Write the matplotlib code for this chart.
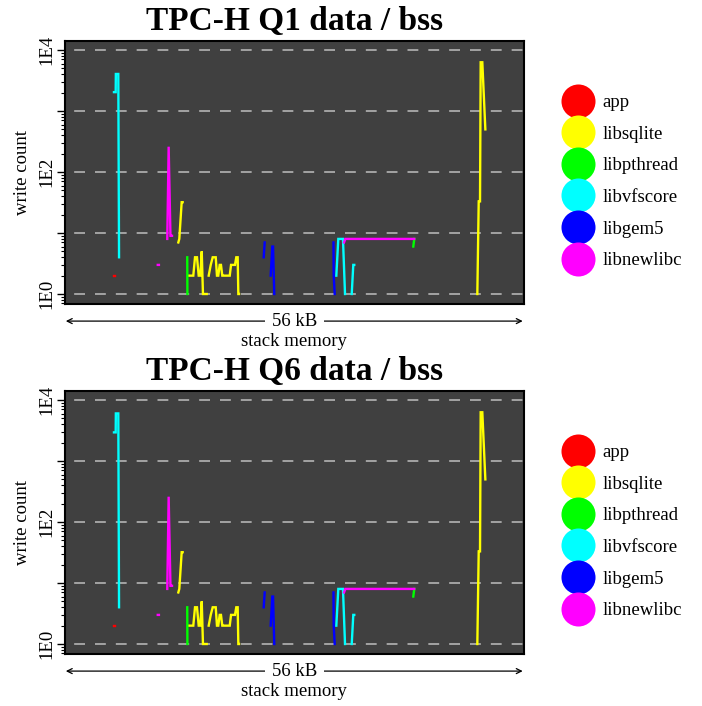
import numpy as np
import matplotlib
matplotlib.use("Agg")
import matplotlib.pyplot as plt
from matplotlib.lines import Line2D
from matplotlib.ticker import LogLocator, NullFormatter, FixedLocator

plt.rcParams['font.family'] = ['Liberation Serif', 'DejaVu Serif']

# ---------------- data (x in kB of stack memory, y = write count) ----------------
titles = ["TPC-H Q1 data / bss", "TPC-H Q6 data / bss"]
libraries = ["app", "libsqlite", "libpthread", "libvfscore", "libgem5", "libnewlibc"]
lib_colors = ["#ff0000", "#ffff00", "#00ff00", "#00ffff", "#0000ff", "#ff00ff"]

app_x = [6.02, 6.14, np.nan, 32.70, 32.76]
app_y = [2, 2, np.nan, 1, 1]

sqlite_x = [13.84, 13.96, 14.25, 14.37, np.nan,
            15.06, 15.67, 15.88, 16.12, 16.33, 16.53, 16.70, 16.85, 17.31, np.nan,
            17.55, 17.80, 18.04, 18.41, 18.56, 18.72, 18.89, 19.05, 19.21, 19.33,
            20.12, 20.28, 20.76, 20.92, 21.09, 21.17, 21.25, np.nan,
            50.36, 50.53, 50.69, 50.77, 50.97, 51.34]
sqlite_y = [7, 8, 32, 32, np.nan,
            2, 2, 4, 4, 2, 2, 5, 1, 1, np.nan,
            2, 3, 4, 4, 2, 2, 3, 3, 2, 2,
            2, 3, 3, 4, 4, 1, 1, np.nan,
            1, 33, 33, 6300, 6300, 500]

pthread_x = [14.93, 14.95, np.nan, 42.54, 42.66]
pthread_y = [4, 1, np.nan, 6, 8]

vfscore_x = [5.98, 6.19, 6.21, 6.51, 6.60, np.nan,
             33.14, 33.38, 33.95, 34.20, np.nan,
             35.02, 35.21, 35.33]
vfscore_y_q1 = [2040, 2040, 4050, 4050, 4, np.nan,
                2, 8, 8, 1, np.nan,
                1, 3, 3]
vfscore_y_q6 = [2950, 2950, 6030, 6030, 4, np.nan,
                2, 8, 8, 1, np.nan,
                1, 3, 3]

gem5_x = [24.27, 24.39, np.nan, 25.12, 25.32, 25.41, 25.56, np.nan, 32.79, 32.82, 32.94]
gem5_y = [4, 7, np.nan, 2, 6, 6, 1, np.nan, 7, 2, 1]

newlibc_x = [11.33, 11.47, np.nan, 12.49, 12.66, 12.88, 13.07, np.nan, 34.08, 34.24, 42.66]
newlibc_y = [3, 3, np.nan, 8, 260, 9, 9, np.nan, 7, 8, 8]

ytick_vals = [1, 10, 100, 1000, 10000]
ytick_labels = ["1E0", "", "1E2", "", "1E4"]
span_label = "56 kB"
x_label = "stack memory"
y_label = "write count"
x_max = 56

series_q1 = [(app_x, app_y), (sqlite_x, sqlite_y), (pthread_x, pthread_y),
             (vfscore_x, vfscore_y_q1), (gem5_x, gem5_y), (newlibc_x, newlibc_y)]
series_q6 = [(app_x, app_y), (sqlite_x, sqlite_y), (pthread_x, pthread_y),
             (vfscore_x, vfscore_y_q6), (gem5_x, gem5_y), (newlibc_x, newlibc_y)]

# ---------------- figure ----------------
W, H = 702, 706
fig = plt.figure(figsize=(W / 100, H / 100), dpi=100)

def px_axes(left, top, right, bottom):
    return [left / W, 1 - bottom / H, (right - left) / W, (bottom - top) / H]

axes = [fig.add_axes(px_axes(65, 41, 523.5, 304)),
        fig.add_axes(px_axes(65, 391, 523.5, 654))]

FS = 13.5

for ax, title, series in zip(axes, titles, [series_q1, series_q6]):
    ax.set_facecolor("#404040")
    ax.set_yscale("log")
    ax.set_ylim(10 ** -0.164, 10 ** 4.148)
    ax.set_xlim(0, x_max)
    for y in ytick_vals:
        ax.axhline(y, color="#b4b4b4", lw=1.2, linestyle=(7, (6.5, 6.0)), zorder=1)
    for (xs, ys), c in zip(series, lib_colors):
        ax.plot(xs, ys, color=c, lw=1.7, zorder=3, solid_joinstyle="miter")
    ax.set_xticks([])
    ax.yaxis.set_major_locator(FixedLocator(ytick_vals))
    ax.set_yticklabels(ytick_labels, rotation=90, va="center", fontsize=FS)
    ax.yaxis.set_minor_locator(LogLocator(base=10, subs=np.arange(2, 10)))
    ax.yaxis.set_minor_formatter(NullFormatter())
    ax.tick_params(axis="y", which="major", direction="out", length=5.5, width=1, pad=1.5)
    ax.tick_params(axis="y", which="minor", direction="out", length=3, width=0.8)
    for s in ax.spines.values():
        s.set_linewidth(1.5)
        s.set_color("black")
    ax.set_title(title, fontsize=24, fontweight="bold", pad=8)
    ax.set_ylabel(y_label, fontsize=FS, labelpad=5)

    # span arrow with label
    ax.annotate("", xy=(0.1, -0.065), xytext=(x_max - 0.1, -0.065),
                xycoords=("data", "axes fraction"), textcoords=("data", "axes fraction"),
                arrowprops=dict(arrowstyle="<->", lw=0.9, color="black",
                                shrinkA=0, shrinkB=0, mutation_scale=9),
                annotation_clip=False)
    ax.text(x_max / 2, -0.065, span_label, transform=ax.get_xaxis_transform(),
            ha="center", va="center", fontsize=FS,
            bbox=dict(facecolor="white", edgecolor="none", pad=5))
    ax.text(x_max / 2, -0.143, x_label, transform=ax.get_xaxis_transform(),
            ha="center", va="center", fontsize=FS)

    handles = [Line2D([], [], marker="o", ls="", markersize=24.5, color=c,
                      markeredgewidth=0) for c in lib_colors]
    ax.legend(handles, libraries, loc="upper left", bbox_to_anchor=(1.082, 0.798),
              frameon=False, fontsize=FS, handlelength=1.8, handletextpad=0.4,
              labelspacing=0.77, borderpad=0, borderaxespad=0)

fig.savefig("out.png", dpi=100)
